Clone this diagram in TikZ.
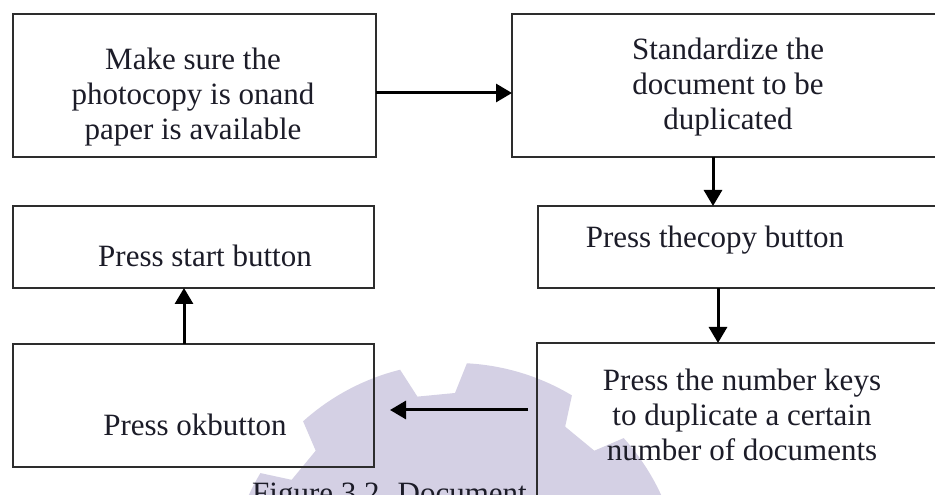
\documentclass[tikz,border=0pt]{standalone}
\usepackage{fontspec}
\setmainfont{Liberation Serif}
\usetikzlibrary{arrows.meta,calc}

\definecolor{inkc}{RGB}{28,28,40}
\definecolor{framec}{RGB}{45,45,45}
\definecolor{wmc}{RGB}{212,208,228}

\tikzset{
  frame/.style={inner sep=0pt, outer sep=0pt, fill=white},
  border/.style={draw=framec, line width=2.2pt},
  steptext/.style={text=inkc, align=center, inner sep=0pt,
    font=\fontsize{31}{35}\selectfont},
  flow/.style={draw=black, line width=3pt, -{Triangle[length=16pt,width=18pt]}},
  wm/.style={fill=wmc}
}

% eight-toothed gear used as a faint background mark
\newcommand\gearshape{%
  \fill[wm] ($(gc)+(14:227)$)
    \foreach \k in {0,...,7}{
      arc[start angle={14+45*\k}, end angle={42+45*\k}, radius=227pt]
      -- ($(gc)+({45+45*\k}:197)$)
      -- ($(gc)+({56+45*\k}:197)$)
      -- ($(gc)+({59+45*\k}:227)$)
    } -- cycle;}

\begin{document}
\begin{tikzpicture}[x=1pt,y=1pt]
  \clip (0,0) rectangle (935,495);
  \fill[white] (0,0) rectangle (935,495);
  \coordinate (gc) at (455,-95);

  % background mark
  \gearshape

  % caption, partly hidden by the last box
  \node[anchor=base west, text=inkc, inner sep=0pt,
        font=\fontsize{31}{35}\selectfont] (cap) at (252,-8.5) {Figure 3.2. Document};

  % box frames (white fill)
  \node[frame, minimum width=363pt, minimum height=143pt] (f1) at (194.5,409.5) {};
  \node[frame, minimum width=433pt, minimum height=143pt] (f2) at (728.5,409.5) {};
  \node[frame, minimum width=361pt, minimum height=82pt]  (f3) at (193.5,248) {};
  \node[frame, minimum width=361pt, minimum height=123pt] (f4) at (193.5,89.5) {};
  \node[frame, minimum width=407pt, minimum height=82pt]  (f5) at (741.5,248) {};
  \node[frame, minimum width=408pt, minimum height=167pt] (f6) at (741,68.5) {};

  % the mark shows through the lower boxes
  \begin{scope}
    \clip (f4.south west) rectangle (f4.north east)
          (f6.south west) rectangle (f6.north east);
    \gearshape
  \end{scope}

  % box outlines
  \foreach \b in {f1,f2,f3,f4,f5,f6}
    \draw[border] (\b.south west) rectangle (\b.north east);

  % step texts
  \node[steptext] (t1) at (193,398) {Make sure the\\photocopy is onand\\paper is available};
  \node[steptext] (t2) at (728,408) {Standardize the\\document to be\\duplicated};
  \node[steptext] (t3) at (205,239) {Press start button};
  \node[steptext] (t4) at (195,70)  {Press okbutton};
  \node[steptext] (t5) at (715,255) {Press thecopy button};
  \node[steptext] (t6) at (742,80)  {Press the number keys\\to duplicate a certain\\number of documents};

  % connectors
  \draw[flow] ([yshift=-7.5pt]f1.east) -- ([yshift=-7.5pt]f1.east -| f2.west);
  \draw[flow] ([xshift=-15.5pt]f2.south) -- ([xshift=-15.5pt]f2.south |- f5.north);
  \draw[flow] ([xshift=-23.5pt]f5.south) -- ([xshift=-23.5pt]f5.south |- f6.north);
  \draw[flow] ([shift={(-9pt,16.5pt)}]f6.west) -- ([shift={(16pt,-4.5pt)}]f4.east);
  \draw[flow] ([xshift=-9.5pt]f4.north) -- ([xshift=-9.5pt]f4.north |- f3.south);
\end{tikzpicture}
\end{document}
